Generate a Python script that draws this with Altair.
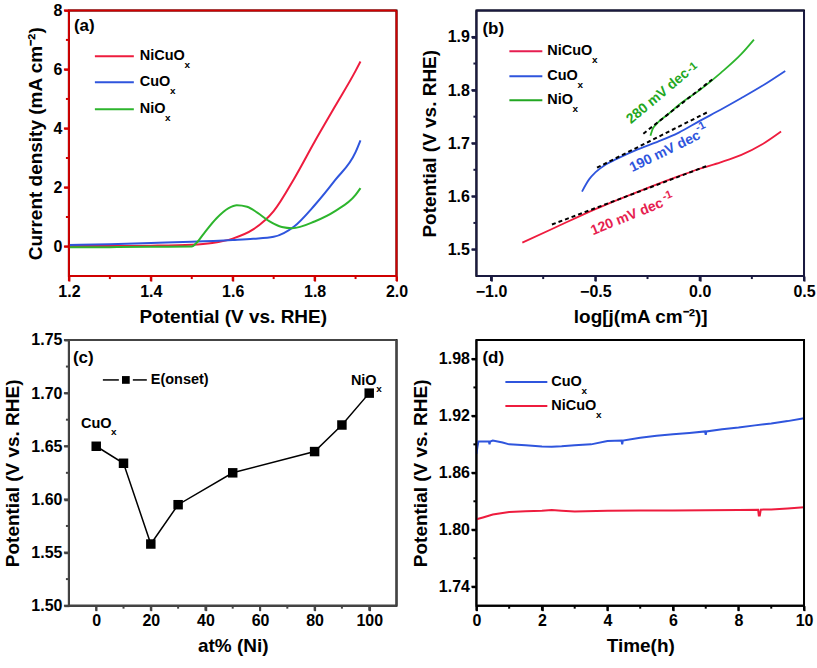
import altair as alt
import pandas as pd

FONT = "Liberation Sans"
RED = "#EE1C3E"
RED_B = "#E61E50"
BLUE = "#2F55DD"
GREEN = "#2DB52D"
GREEN_B = "#22A722"

# ---------------- (a) LSV curves ----------------
a_red_v = [1.20, 1.30, 1.40, 1.50, 1.55, 1.60, 1.65, 1.70, 1.75, 1.80, 1.85, 1.90, 1.912]
a_red_j = [0.02, 0.02, 0.03, 0.06, 0.12, 0.27, 0.58, 1.20, 2.30, 3.55, 4.75, 5.95, 6.27]
a_blue_v = [1.20, 1.30, 1.40, 1.50, 1.60, 1.65, 1.70, 1.75, 1.80, 1.85, 1.90, 1.912]
a_blue_j = [0.05, 0.08, 0.12, 0.16, 0.22, 0.26, 0.33, 0.68, 1.40, 2.25, 3.20, 3.60]
a_green_v = [1.20, 1.30, 1.40, 1.50, 1.51, 1.53, 1.56, 1.59, 1.61, 1.635, 1.66, 1.69, 1.72, 1.745, 1.80, 1.85, 1.90, 1.912]
a_green_j = [-0.02, -0.02, -0.01, 0.00, 0.10, 0.45, 0.95, 1.30, 1.40, 1.35, 1.15, 0.85, 0.66, 0.62, 0.85, 1.20, 1.75, 1.98]
a_series = ["NiCuO", "CuO", "NiO"]

# ---------------- (b) Tafel plots ----------------
b_red_x = [-0.85, -0.70, -0.50, -0.30, -0.10, 0.00, 0.10, 0.20, 0.30, 0.39]
b_red_y = [1.513, 1.540, 1.576, 1.608, 1.638, 1.652, 1.664, 1.678, 1.698, 1.722]
b_blue_x = [-0.564, -0.53, -0.50, -0.45, -0.40, -0.30, -0.20, -0.10, 0.00, 0.10, 0.20, 0.30, 0.41]
b_blue_y = [1.609, 1.632, 1.645, 1.660, 1.670, 1.688, 1.703, 1.720, 1.742, 1.763, 1.785, 1.808, 1.836]
b_green_x = [-0.236, -0.225, -0.21, -0.15, -0.10, 0.00, 0.10, 0.20, 0.26]
b_green_y = [1.714, 1.727, 1.735, 1.755, 1.772, 1.800, 1.832, 1.868, 1.895]
fit_x1 = [-0.708, -0.492, -0.27]
fit_y1 = [1.547, 1.654, 1.718]
fit_x2 = [0.04, 0.04, 0.06]
fit_y2 = [1.658, 1.759, 1.820]
ann_text = ["280 mV dec", "190 mV dec", "120 mV dec"]
ann_x = [-0.200, -0.166, -0.348]
ann_y = [1.788, 1.684, 1.561]
ann_sup_x = [-0.036, 0.004, -0.155]
ann_sup_y = [1.842, 1.731, 1.601]

# ---------------- (c) onset potential ----------------
c_x = [0, 10, 20, 30, 50, 80, 90, 100]
c_y = [1.650, 1.634, 1.558, 1.595, 1.625, 1.645, 1.670, 1.700]
c_label_text = ["CuO", "NiO"]
c_label_x = [0, 98]
c_label_y = [1.671, 1.711]

# ---------------- (d) chronopotentiometry ----------------
d_blue_t = [0.0, 0.03, 0.06, 0.2, 0.38, 0.40, 0.42, 0.5, 0.8, 1.0, 1.5, 2.0, 2.3, 2.6, 3.0, 3.5, 4.0, 4.43, 4.45, 4.47, 5.0, 5.5, 6.0, 6.5, 6.98, 7.0, 7.02, 7.5, 8.0, 8.5, 9.0, 9.5, 10.0]
d_blue_e = [1.880, 1.887, 1.893, 1.893, 1.893, 1.890, 1.893, 1.894, 1.892, 1.890, 1.889, 1.8877, 1.8875, 1.888, 1.889, 1.890, 1.8935, 1.894, 1.890, 1.894, 1.897, 1.899, 1.9007, 1.902, 1.9036, 1.900, 1.9036, 1.906, 1.9078, 1.910, 1.912, 1.9145, 1.9175]
d_red_t = [0.0, 0.2, 0.5, 1.0, 1.5, 2.0, 2.3, 2.6, 3.0, 4.0, 5.0, 6.0, 7.0, 8.0, 8.6, 8.62, 8.65, 8.68, 9.0, 9.5, 10.0]
d_red_e = [1.811, 1.813, 1.816, 1.8186, 1.8195, 1.8200, 1.8207, 1.8200, 1.8192, 1.8200, 1.8202, 1.8203, 1.8205, 1.8208, 1.8210, 1.8150, 1.8150, 1.8212, 1.8214, 1.8225, 1.8237]

# axis domains and tick positions
a_xdom, a_ydom = [1.2, 2.0], [-1, 8]
b_xdom, b_ydom = [-1.07, 0.5], [1.45, 1.95]
c_xdom, c_ydom = [-10, 110], [1.50, 1.75]
d_xdom, d_ydom = [0, 10], [1.72, 2.0]
a_xmaj, a_xmin = [1.2, 1.4, 1.6, 1.8, 2.0], [1.3, 1.5, 1.7, 1.9]
a_ymaj, a_ymin = [0, 2, 4, 6, 8], [1, 3, 5, 7]
b_xmaj, b_xmin = [-1.0, -0.5, 0.0, 0.5], [-0.75, -0.25, 0.25]
b_ymaj, b_ymin = [1.5, 1.6, 1.7, 1.8, 1.9], [1.55, 1.65, 1.75, 1.85]
c_xmaj, c_xmin = [0, 20, 40, 60, 80, 100], [10, 30, 50, 70, 90]
c_ymaj, c_ymin = [1.50, 1.55, 1.60, 1.65, 1.70, 1.75], [1.525, 1.575, 1.625, 1.675, 1.725]
d_xmaj, d_xmin = [0, 2, 4, 6, 8, 10], [1, 3, 5, 7, 9]
d_ymaj, d_ymin = [1.74, 1.80, 1.86, 1.92, 1.98], [1.77, 1.83, 1.89, 1.95]

W, H = 328, 266
ONE = pd.DataFrame({"k": [0]})
CHAR_W = {"N": 722, "i": 278, "C": 722, "u": 611, "O": 778}


def text_w(s, size):
    return sum(CHAR_W.get(ch, 600) for ch in s) * size / 1000.0


def scale(dom):
    return alt.Scale(domain=dom, nice=False, zero=False)


def axis(major, fmt, title, ink, title_pad=8):
    return alt.Axis(
        values=major, title=title, format=fmt,
        tickSize=5, tickColor=ink, tickWidth=2, domain=False, grid=False,
        titlePadding=title_pad, labelFlush=False,
    )


def frame_ticks(xdom, ydom, xmaj, xmin, ymaj, ymin, ink):
    x0, x1 = xdom
    y0, y1 = ydom
    sx = (x1 - x0) / W
    sy = (y1 - y0) / H
    segs = [(x0, y0, x1, y0), (x0, y1, x1, y1), (x0, y0, x0, y1), (x1, y0, x1, y1)]
    segs += [(v, y0, v, y0 - 5 * sy) for v in xmaj]
    segs += [(v, y0, v, y0 - 3 * sy) for v in xmin]
    segs += [(x0, v, x0 - 5 * sx, v) for v in ymaj]
    segs += [(x0, v, x0 - 3 * sx, v) for v in ymin]
    df = pd.DataFrame(segs, columns=["fx1", "fy1", "fx2", "fy2"])
    return alt.Chart(df).mark_rule(color=ink, strokeWidth=2).encode(
        x=alt.X("fx1:Q", scale=scale(xdom)), y=alt.Y("fy1:Q", scale=scale(ydom)),
        x2="fx2:Q", y2="fy2:Q")


def tag(label, x, y):
    return alt.Chart(ONE).mark_text(
        align="left", baseline="middle", font=FONT, fontSize=17, fontWeight="bold", color="black"
    ).encode(x=alt.value(x), y=alt.value(y), text=alt.value(label))


def legend(items, x0, x1, xt, ys, fs=14.5):
    layers = []
    for (name, color), y in zip(items, ys):
        layers.append(alt.Chart(ONE).mark_rule(color=color, strokeWidth=2).encode(
            x=alt.value(x0), x2=alt.value(x1), y=alt.value(y)))
        layers.append(alt.Chart(ONE).mark_text(
            align="left", baseline="middle", font=FONT, fontSize=fs, fontWeight="bold", color="black"
        ).encode(x=alt.value(xt), y=alt.value(y), text=alt.value(name)))
        layers.append(alt.Chart(ONE).mark_text(
            align="left", baseline="middle", font=FONT, fontSize=10, fontWeight="bold", color="black"
        ).encode(x=alt.value(xt + text_w(name, fs) - 0.5), y=alt.value(y + 9), text=alt.value("x")))
    return layers


INK_A, INK_B, INK_C, INK_D = "#d00000", "#1a1a40", "#444444", "#000000"

# ---------- panel (a) ----------
rows = []
for name, vs, js in zip(a_series, [a_red_v, a_blue_v, a_green_v], [a_red_j, a_blue_j, a_green_j]):
    for v, j in zip(vs, js):
        rows.append({"V": v, "j": j, "s": name})
df_a = pd.DataFrame(rows)
xa = alt.X("V:Q", scale=scale(a_xdom), axis=axis(a_xmaj, ".1f", "Potential (V vs. RHE)", INK_A))
ya = alt.Y("j:Q", scale=scale(a_ydom), axis=axis(a_ymaj, ".0f", "Current density (mA cm\u207b\u00b2)", INK_A))
lines_a = alt.Chart(df_a).mark_line(strokeWidth=2, interpolate="monotone").encode(
    x=xa, y=ya,
    color=alt.Color("s:N", scale=alt.Scale(domain=a_series, range=[RED, BLUE, GREEN]), legend=None),
    detail="s:N")
panel_a = alt.layer(
    lines_a, frame_ticks(a_xdom, a_ydom, a_xmaj, a_xmin, a_ymaj, a_ymin, INK_A), tag("(a)", 5, 16),
    *legend([("NiCuO", RED), ("CuO", BLUE), ("NiO", GREEN)], 26, 65, 71, [46, 72, 99])
).properties(width=W, height=H)

# ---------- panel (b) ----------
rows = []
for name, xs, ys in zip(a_series, [b_red_x, b_blue_x, b_green_x], [b_red_y, b_blue_y, b_green_y]):
    for x, y in zip(xs, ys):
        rows.append({"L": x, "E": y, "s": name})
df_b = pd.DataFrame(rows)
xb = alt.X("L:Q", scale=scale(b_xdom), axis=axis(b_xmaj, ".1f", "log[j(mA cm\u207b\u00b2)]", INK_B))
yb = alt.Y("E:Q", scale=scale(b_ydom), axis=axis(b_ymaj, ".1f", "Potential (V vs. RHE)", INK_B))
lines_b = alt.Chart(df_b).mark_line(strokeWidth=1.8, interpolate="monotone").encode(
    x=xb, y=yb,
    color=alt.Color("s:N", scale=alt.Scale(domain=a_series, range=[RED_B, BLUE, GREEN_B]), legend=None),
    detail="s:N")
df_fit = pd.DataFrame({"x1": fit_x1, "y1": fit_y1, "x2": fit_x2, "y2": fit_y2})
fits = alt.Chart(df_fit).mark_rule(color="black", strokeWidth=2, strokeDash=[4, 3]).encode(
    x=alt.X("x1:Q", scale=scale(b_xdom)), y=alt.Y("y1:Q", scale=scale(b_ydom)), x2="x2:Q", y2="y2:Q")
ann_layers = []
ann_colors = [GREEN_B, BLUE, RED_B]
ann_angles = [320, 334, 338]
for i in range(3):
    d = pd.DataFrame({"x": [ann_x[i]], "y": [ann_y[i]], "t": [ann_text[i]],
                      "sx": [ann_sup_x[i]], "sy": [ann_sup_y[i]]})
    ann_layers.append(alt.Chart(d).mark_text(
        angle=ann_angles[i], font=FONT, fontSize=14, fontWeight="bold", color=ann_colors[i],
        align="center", baseline="middle").encode(
        x=alt.X("x:Q", scale=scale(b_xdom)), y=alt.Y("y:Q", scale=scale(b_ydom)), text="t:N"))
    ann_layers.append(alt.Chart(d).mark_text(
        angle=ann_angles[i], font=FONT, fontSize=11, fontWeight="bold", color=ann_colors[i],
        align="center", baseline="middle").encode(
        x=alt.X("sx:Q", scale=scale(b_xdom)), y=alt.Y("sy:Q", scale=scale(b_ydom)), text=alt.value("-1")))
panel_b = alt.layer(
    lines_b, fits, *ann_layers, frame_ticks(b_xdom, b_ydom, b_xmaj, b_xmin, b_ymaj, b_ymin, INK_B),
    tag("(b)", 6, 19),
    *legend([("NiCuO", RED_B), ("CuO", BLUE), ("NiO", GREEN_B)], 33, 66, 71, [41, 66, 90])
).properties(width=W, height=H)

# ---------- panel (c) ----------
df_c = pd.DataFrame({"x": c_x, "y": c_y})
xc = alt.X("x:Q", scale=scale(c_xdom), axis=axis(c_xmaj, ".0f", "at% (Ni)", INK_C))
yc = alt.Y("y:Q", scale=scale(c_ydom), axis=axis(c_ymaj, ".2f", "Potential (V vs. RHE)", INK_C))
line_c = alt.Chart(df_c).mark_line(color="black", strokeWidth=1.5).encode(x=xc, y=yc)
pts_c = alt.Chart(df_c).mark_point(shape="square", filled=True, color="black", size=90, opacity=1).encode(
    x=alt.X("x:Q", scale=scale(c_xdom)), y=alt.Y("y:Q", scale=scale(c_ydom)))
df_cl = pd.DataFrame({"x": c_label_x, "y": c_label_y, "t": c_label_text})
lab_c = alt.Chart(df_cl).mark_text(font=FONT, fontSize=14.5, fontWeight="bold", color="black",
                                   align="center", baseline="middle").encode(
    x=alt.X("x:Q", scale=scale(c_xdom)), y=alt.Y("y:Q", scale=scale(c_ydom)), text="t:N")
sub_c = []
for t, x, y in zip(c_label_text, c_label_x, c_label_y):
    d = pd.DataFrame({"x": [x], "y": [y]})
    sub_c.append(alt.Chart(d).mark_text(font=FONT, fontSize=10, fontWeight="bold", color="black",
                                        align="left", baseline="middle",
                                        dx=text_w(t, 14.5) / 2 - 0.5, dy=8).encode(
        x=alt.X("x:Q", scale=scale(c_xdom)), y=alt.Y("y:Q", scale=scale(c_ydom)), text=alt.value("x")))
leg_c = [
    alt.Chart(ONE).mark_rule(color="black", strokeWidth=1.5).encode(x=alt.value(34), x2=alt.value(50), y=alt.value(40)),
    alt.Chart(ONE).mark_rule(color="black", strokeWidth=1.5).encode(x=alt.value(64), x2=alt.value(78), y=alt.value(40)),
    alt.Chart(ONE).mark_point(shape="square", filled=True, color="black", size=60, opacity=1).encode(
        x=alt.value(57), y=alt.value(40)),
    alt.Chart(ONE).mark_text(align="left", baseline="middle", font=FONT, fontSize=14.5, fontWeight="bold",
                             color="black").encode(x=alt.value(82), y=alt.value(40), text=alt.value("E(onset)")),
]
panel_c = alt.layer(line_c, pts_c, lab_c, *sub_c, *leg_c,
                    frame_ticks(c_xdom, c_ydom, c_xmaj, c_xmin, c_ymaj, c_ymin, INK_C),
                    tag("(c)", 4, 18)).properties(width=W, height=H)

# ---------- panel (d) ----------
rows = []
for name, ts, es in zip(["CuO", "NiCuO"], [d_blue_t, d_red_t], [d_blue_e, d_red_e]):
    for t, e in zip(ts, es):
        rows.append({"t": t, "E": e, "s": name})
df_d = pd.DataFrame(rows)
xd = alt.X("t:Q", scale=scale(d_xdom), axis=axis(d_xmaj, ".0f", "Time(h)", INK_D))
yd = alt.Y("E:Q", scale=scale(d_ydom), axis=axis(d_ymaj, ".2f", "Potential (V vs. RHE)", INK_D))
lines_d = alt.Chart(df_d).mark_line(strokeWidth=2).encode(
    x=xd, y=yd,
    color=alt.Color("s:N", scale=alt.Scale(domain=["CuO", "NiCuO"], range=[BLUE, RED]), legend=None),
    detail="s:N")
panel_d = alt.layer(
    lines_d, frame_ticks(d_xdom, d_ydom, d_xmaj, d_xmin, d_ymaj, d_ymin, INK_D), tag("(d)", 6, 18),
    *legend([("CuO", BLUE), ("NiCuO", RED)], 29, 71, 75, [42, 66])
).properties(width=W, height=H)

chart = alt.concat(
    panel_a, panel_b, panel_c, panel_d, columns=2, spacing={"row": 4, "column": 0}
).properties(
    padding={"left": 2, "top": 1, "right": 0, "bottom": 0}
).configure_view(
    stroke="black", strokeWidth=2
).configure_axis(
    labelFont=FONT, labelFontSize=16, labelFontWeight="bold", labelColor="black", labelPadding=2,
    titleFont=FONT, titleFontSize=19, titleFontWeight="bold", titleColor="black",
)

chart.save("out.html", embed_options={"renderer": "svg", "actions": False})
